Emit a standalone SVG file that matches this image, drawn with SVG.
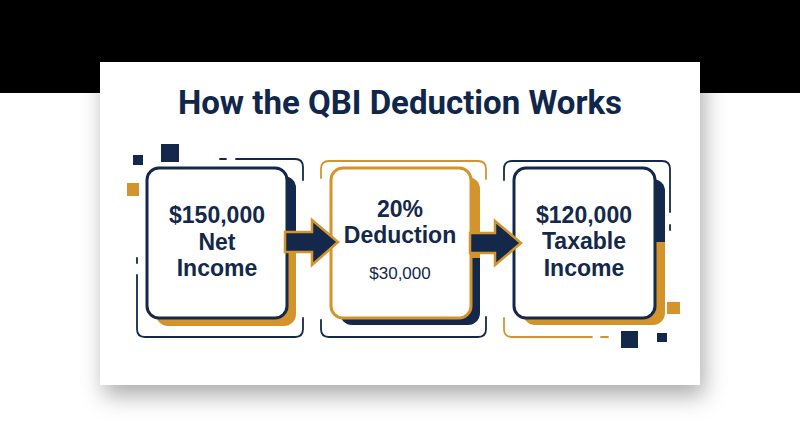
<svg xmlns="http://www.w3.org/2000/svg" width="800" height="447" viewBox="0 0 800 447">
  <defs>
    <style>
      .title { font-family: Roboto, "Liberation Sans", sans-serif; font-weight: 700; font-size: 33px; fill: #10264a; text-anchor: middle; }
      .lbl { font-family: "Liberation Sans", Arial, sans-serif; font-weight: 700; font-size: 23px; fill: #13284a; text-anchor: middle; }
      .sub { font-family: "Liberation Sans", Arial, sans-serif; font-weight: 400; font-size: 17px; fill: #13284a; text-anchor: middle; }
      .box-navy { fill: #ffffff; stroke: #13284a; stroke-width: 3; }
      .box-gold { fill: #ffffff; stroke: #d4942c; stroke-width: 3; }
      .br-navy { fill: none; stroke: #13284a; stroke-width: 1.8; stroke-linecap: round; }
      .br-gold { fill: none; stroke: #d4942c; stroke-width: 1.8; stroke-linecap: round; }
      .navy { fill: #13284a; }
      .gold { fill: #d4942c; }
      .arrow { fill: #13284a; stroke: #d4942c; stroke-width: 2.5; stroke-linejoin: miter; }
    </style>
    <filter id="cardShadow" x="-15%" y="-20%" width="135%" height="150%">
      <feDropShadow dx="4" dy="11" stdDeviation="11" flood-color="#000000" flood-opacity="0.32"/>
    </filter>
    <linearGradient id="sh1" gradientUnits="userSpaceOnUse" x1="0" y1="176" x2="0" y2="326">
      <stop offset="0.46" stop-color="#13284a"/>
      <stop offset="0.46" stop-color="#d4942c"/>
    </linearGradient>
    <linearGradient id="sh2" gradientUnits="userSpaceOnUse" x1="0" y1="177" x2="0" y2="325">
      <stop offset="0.55" stop-color="#d4942c"/>
      <stop offset="0.55" stop-color="#13284a"/>
    </linearGradient>
    <linearGradient id="sh3" gradientUnits="userSpaceOnUse" x1="0" y1="179" x2="0" y2="325">
      <stop offset="0.43" stop-color="#13284a"/>
      <stop offset="0.43" stop-color="#d4942c"/>
    </linearGradient>
  </defs>

  <rect x="0" y="0" width="800" height="447" fill="#ffffff"/>
  <rect x="0" y="0" width="800" height="93" fill="#000000"/>

  <rect id="card" x="100" y="62" width="600" height="323" fill="#ffffff" filter="url(#cardShadow)"/>

  <text class="title" x="400" y="114">How the QBI Deduction Works</text>

  <g id="node-net-income">
    <rect class="navy" x="133" y="155" width="10" height="10"/>
    <rect class="navy" x="161" y="144" width="18" height="18"/>
    <rect class="gold" x="127" y="183" width="12" height="13"/>
    <path class="br-navy" d="M220,159 H226 M236,159 H295 Q303,159 303,167 V180"/>
    <path class="br-navy" d="M137,258 V263 M137,275 V329 Q137,337 145,337 H295 Q303,337 303,329 V318"/>
    <rect x="156" y="176" width="140" height="150" rx="12" fill="url(#sh1)"/>
    <rect class="box-navy" x="147" y="168" width="140" height="150" rx="12"/>
    <text class="lbl" x="217" y="223">$150,000</text>
    <text class="lbl" x="217" y="250">Net</text>
    <text class="lbl" x="217" y="276">Income</text>
  </g>

  <g id="node-deduction">
    <path class="br-gold" d="M321,178 V169 Q321,161 329,161 H478 Q486,161 486,169 V179"/>
    <path class="br-navy" d="M321,320 V329 Q321,337 329,337 H478 Q486,337 486,329 V317"/>
    <rect x="340" y="177" width="140" height="148" rx="12" fill="url(#sh2)"/>
    <rect class="box-gold" x="331" y="168" width="140" height="150" rx="12"/>
    <text class="lbl" x="400" y="217">20%</text>
    <text class="lbl" x="400" y="243">Deduction</text>
    <text class="sub" x="400" y="279">$30,000</text>
  </g>

  <g id="node-taxable-income">
    <path class="br-navy" d="M504,180 V169 Q504,161 512,161 H662 Q670,161 670,169 V212 M670,225 V230"/>
    <path class="br-gold" d="M504,318 V329 Q504,337 512,337 H592 M601,337 H608"/>
    <rect x="523" y="179" width="142" height="146" rx="12" fill="url(#sh3)"/>
    <rect class="box-navy" x="514" y="168" width="141" height="150" rx="12"/>
    <rect class="gold" x="667" y="302" width="13" height="12"/>
    <rect class="navy" x="621" y="331" width="17" height="17"/>
    <rect class="navy" x="657" y="333" width="10" height="9"/>
    <text class="lbl" x="584" y="223">$120,000</text>
    <text class="lbl" x="584" y="249">Taxable</text>
    <text class="lbl" x="584" y="276">Income</text>
  </g>

  <g id="connectors">
    <polygon class="arrow" points="285,232 312,232 312,220 338,242 312,265 312,252 285,252"/>
    <polygon class="arrow" points="470,233 495,233 495,221 521,243 495,265 495,253 470,253"/>
  </g>
</svg>
